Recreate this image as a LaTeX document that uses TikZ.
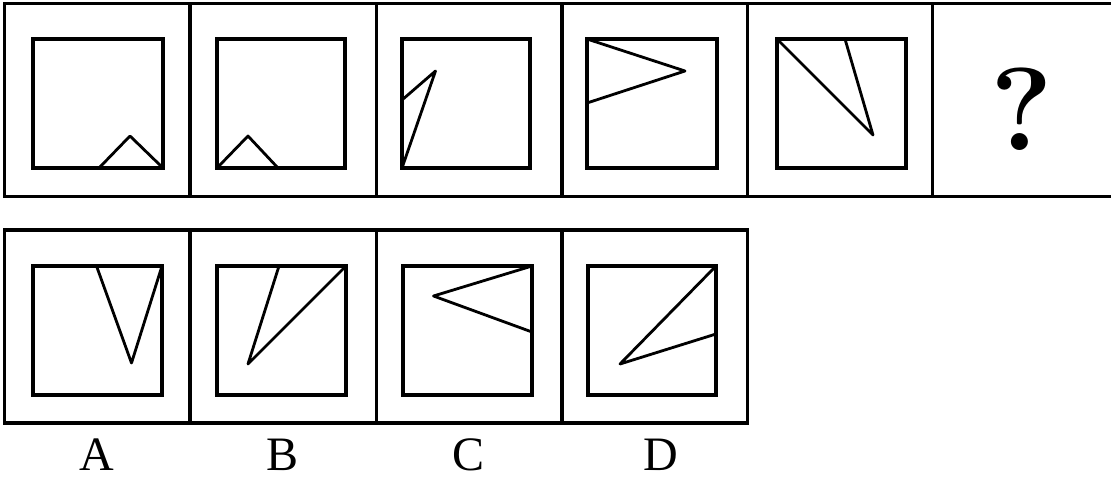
\documentclass[tikz,border=0pt]{standalone}
\usepackage{fontspec}
\setmainfont{Liberation Serif}
\newfontfamily\qfont{Latin Modern Roman}
\begin{document}
\begin{tikzpicture}[x=1pt,y=-1pt,
  frame/.style={line width=3.4pt,line cap=rect},
  inner/.style={line width=3.2pt,line join=miter},
  fig/.style={line width=2.8pt,line join=round,line cap=round},
  lab/.style={font=\fontsize{48}{48}\selectfont,anchor=base,inner sep=0pt}]
\useasboundingbox (0,0) rectangle (1111,477);
% top row frame
\draw[frame] (4.5,3.5) -- (1111,3.5);
\draw[frame] (4.5,196.5) -- (1111,196.5);
\foreach \x in {4.5,190,376.5,562,747.5,932.5}
  \draw[frame] (\x,3.5) -- (\x,196.5);
% bottom row frame
\draw[frame] (4.5,230) rectangle (747.5,423);
\foreach \x in {190,376.5,562}
  \draw[frame] (\x,230) -- (\x,423);
% top row inner squares
\draw[inner] (33,39) rectangle (163,168);
\draw[inner] (217,39) rectangle (345,168);
\draw[inner] (402,39) rectangle (530,168);
\draw[inner] (587,39) rectangle (717,168);
\draw[inner] (777,39) rectangle (906,168);
% top row figures
\draw[fig] (99,168) -- (130,136) -- (163,168);
\draw[fig] (217,168) -- (248,136) -- (278,168);
\draw[fig] (402,100) -- (435.5,71) -- (402,168);
\draw[fig] (587,39) -- (685,71) -- (587,103);
\draw[fig] (777,39) -- (873,135) -- (845,39);
\node[font=\qfont\bfseries\fontsize{118}{118}\selectfont,anchor=base,inner sep=0pt] (q) at (1022,150) {?};
% bottom row inner squares
\draw[inner] (33,266) rectangle (162,395);
\draw[inner] (217,266) rectangle (346,395);
\draw[inner] (403,266) rectangle (532,395);
\draw[inner] (588,266) rectangle (716,395);
% bottom row figures
\draw[fig] (96.5,266) -- (131.5,363) -- (162,266);
\draw[fig] (279,266) -- (248,364) -- (346,266);
\draw[fig] (532,266) -- (433.5,296) -- (532,332);
\draw[fig] (716,266) -- (620,364) -- (716,334);
% labels
\node[lab] (la) at (97,470) {A};
\node[lab] (lb) at (283,470) {B};
\node[lab] (lc) at (469,470) {C};
\node[lab] (ld) at (661,470) {D};
\end{tikzpicture}
\end{document}
